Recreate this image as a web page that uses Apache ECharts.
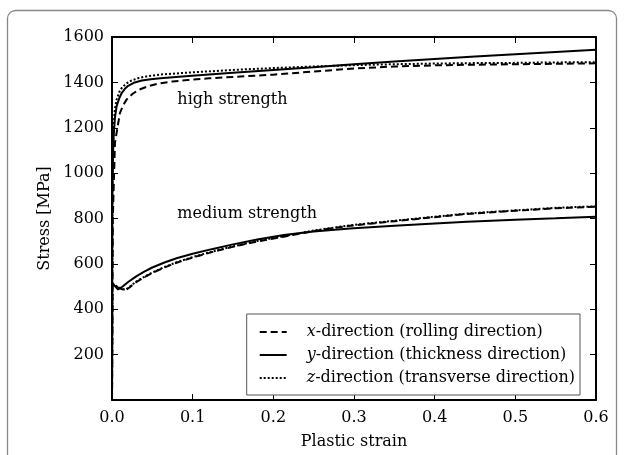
<!DOCTYPE html>
<html>
<head>
<meta charset="utf-8">
<script src="https://cdn.jsdelivr.net/npm/echarts@6/dist/echarts.min.js"></script>
<style>html,body{margin:0;padding:0;background:#fff}#c{width:624px;height:455px}</style>
</head>
<body>
<div id="c"></div>
<script>
// Plastic strain / stress [MPa] readings
var highX = [[0,0],[0.001,800],[0.0037,1135],[0.0099,1266],[0.014,1300],[0.018,1324],[0.025,1348],[0.033,1367],[0.045,1383],[0.057,1394],[0.075,1404],[0.095,1411],[0.12,1418],[0.15,1424],[0.2,1434],[0.25,1448],[0.3,1461],[0.35,1470],[0.4,1475],[0.45,1478],[0.5,1480],[0.55,1482],[0.6,1484]];
var highY = [[0,0],[0.0005,900],[0.0016,1135],[0.0035,1240],[0.0057,1294],[0.009,1330],[0.012,1353],[0.016,1372],[0.02,1385],[0.027,1398],[0.037,1408],[0.048,1414],[0.06,1418],[0.095,1428],[0.15,1442],[0.2,1455],[0.25,1467],[0.3,1480],[0.35,1492],[0.4,1503],[0.45,1514],[0.5,1524],[0.55,1534],[0.6,1544]];
var highZ = [[0,0],[0.0005,1000],[0.002,1200],[0.0035,1280],[0.0057,1324],[0.009,1357],[0.012,1375],[0.017,1393],[0.024,1408],[0.033,1419],[0.045,1428],[0.065,1436],[0.095,1443],[0.15,1455],[0.2,1463],[0.25,1470],[0.3,1476],[0.35,1480],[0.4,1483],[0.45,1485],[0.5,1486],[0.55,1488],[0.6,1489]];
var medX = [[0,0],[0.0003,510],[0.008,495],[0.0165,483],[0.022,497],[0.03,520],[0.04,541],[0.05,560],[0.065,584],[0.08,605],[0.1,628],[0.125,653],[0.151,676],[0.18,699],[0.213,720],[0.25,745],[0.295,768],[0.35,788],[0.4,806],[0.44,820],[0.5,834],[0.55,845],[0.6,852]];
var medY = [[0,0],[0.0003,516],[0.0075,487],[0.012,497],[0.02,520],[0.03,545],[0.04,566],[0.05,584],[0.065,606],[0.08,625],[0.1,645],[0.125,666],[0.15,686],[0.18,707],[0.213,727],[0.25,743],[0.295,756],[0.35,768],[0.4,778],[0.44,786],[0.5,795],[0.55,801],[0.6,808]];
var medZ = [[0,0],[0.0003,512],[0.008,497],[0.0165,485],[0.022,499],[0.03,522],[0.04,543],[0.05,562],[0.065,586],[0.08,607],[0.1,630],[0.125,655],[0.151,678],[0.18,701],[0.213,722],[0.25,747],[0.295,770],[0.35,790],[0.4,808],[0.44,822],[0.5,836],[0.55,847],[0.6,854]];
var names = ['x-direction (rolling direction)','y-direction (thickness direction)','z-direction (transverse direction)'];
var xTicks = [0,0.1,0.2,0.3,0.4,0.5,0.6];
var yTicks = [200,400,600,800,1000,1200,1400,1600];
var annotations = [['high strength',0.081,1324],['medium strength',0.081,822]];

var FONT = 'DejaVu Serif';
var FS = 16;
var chart = echarts.init(document.getElementById('c'), null, {renderer:'canvas'});
var dashStyle = {color:'#000', width:2, type:[7,4]};
var solidStyle = {color:'#000', width:2, type:'solid'};
var dotStyle = {color:'#000', width:2, type:[2,2]};
function line(name, data, ls, extra){
  var s = {type:'line', name:name, data:data, showSymbol:false, symbol:'none', lineStyle:ls, itemStyle:{color:'#000'}, animation:false, z:3};
  if (extra) for (var k in extra) s[k]=extra[k];
  return s;
}
var mp = {symbolSize:0, silent:true, label:{show:true, position:'right', distance:0, color:'#000', fontFamily:FONT, fontSize:FS, formatter:function(p){return p.name;}},
  data: annotations.map(function(a){return {name:a[0], coord:[a[1],a[2]]};})};
var axisCommon = {type:'value', min:0, splitLine:{show:false},
  axisLine:{show:true, onZero:false, lineStyle:{color:'#000', width:2}},
  axisTick:{show:true, inside:true, length:6, lineStyle:{color:'#000', width:1}}};
var option = {
  backgroundColor:'#fff',
  animation:false,
  grid:{left:112, right:28, top:37, bottom:52, containLabel:false},
  graphic:[{type:'rect', shape:{x:7.5, y:10.5, width:609, height:470, r:8}, style:{fill:'none', stroke:'#888', lineWidth:1.3}, z:-1}],
  legend:{
    data:names, orient:'vertical', right:44, bottom:60,
    backgroundColor:'#fff', borderColor:'#555', borderWidth:1, borderRadius:0,
    padding:[10,5,9,12], itemWidth:27, itemHeight:14, itemGap:7,
    itemStyle:{opacity:0},
    textStyle:{fontFamily:FONT, fontSize:FS, color:'#000', lineHeight:16, padding:[0,0,0,15],
      rich:{i:{fontStyle:'italic', fontFamily:FONT, fontSize:FS, color:'#000', lineHeight:16}, n:{fontFamily:FONT, fontSize:FS, color:'#000', lineHeight:16}}},
    formatter:function(n){return '{i|'+n.charAt(0)+'}{n|'+n.slice(1)+'}';}
  },
  xAxis:[
    Object.assign({}, axisCommon, {max:0.6, interval:0.1, position:'bottom', name:'Plastic strain', nameLocation:'middle', nameGap:34,
      nameTextStyle:{fontFamily:FONT, fontSize:FS, color:'#000'},
      axisLabel:{margin:10, fontFamily:FONT, fontSize:FS, color:'#000', formatter:function(v){return v.toFixed(1);}}}),
    Object.assign({}, axisCommon, {max:0.6, interval:0.1, position:'top', axisLabel:{show:false}})
  ],
  yAxis:[
    Object.assign({}, axisCommon, {max:1600, interval:200, position:'left', name:'Stress [MPa]', nameLocation:'middle', nameGap:56,
      nameTextStyle:{fontFamily:FONT, fontSize:FS, color:'#000'},
      axisLabel:{margin:8, showMinLabel:false, fontFamily:FONT, fontSize:FS, color:'#000', formatter:function(v){return String(v);}}}),
    Object.assign({}, axisCommon, {max:1600, interval:200, position:'right', axisLabel:{show:false}})
  ],
  series:[
    line(names[0], highX, dashStyle),
    line(names[1], highY, solidStyle, {markPoint:mp}),
    line(names[2], highZ, dotStyle),
    line(names[0], medX, dashStyle),
    line(names[1], medY, solidStyle),
    line(names[2], medZ, dotStyle)
  ]
};
chart.setOption(option);
</script>
</body>
</html>
